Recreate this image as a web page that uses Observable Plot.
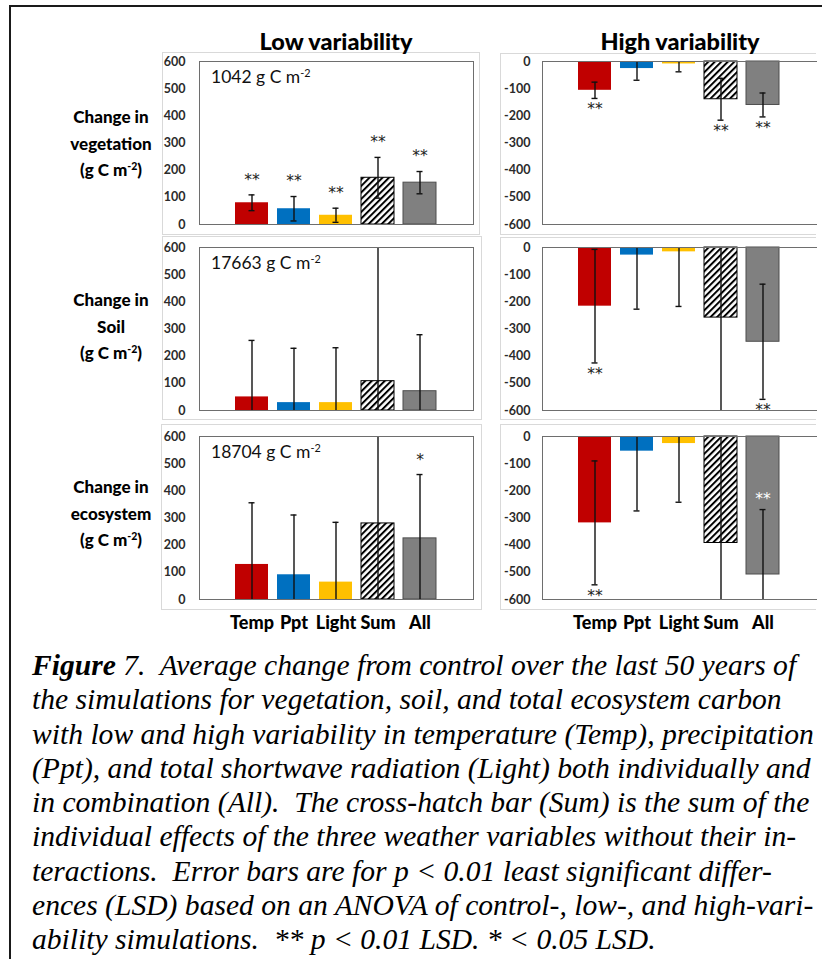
<!DOCTYPE html>
<html><head><meta charset="utf-8">
<script src="https://cdn.jsdelivr.net/npm/d3@7"></script>
<script src="https://cdn.jsdelivr.net/npm/@observablehq/plot@0.6"></script>
<style>
html,body{margin:0;padding:0;background:#fff;}
body{width:822px;height:959px;position:relative;overflow:hidden;font-family:Lato,"Open Sans",sans-serif;}
.outer{position:absolute;left:9px;top:5px;width:900px;height:1000px;border-top:2px solid #1a1a1a;border-left:2px solid #1a1a1a;}
.box{position:absolute;border:1px solid #d9d9d9;}
.box.r{border-right:none;}
.title{position:absolute;font-weight:900;font-size:23.5px;line-height:28px;color:#000;transform:translateX(-50%);white-space:nowrap;top:27px;}
.rowlab{position:absolute;left:111px;transform:translateX(-50%);text-align:center;font-weight:900;font-size:17px;line-height:26.5px;color:#000;white-space:nowrap;}
sup{font-size:0.62em;vertical-align:0.55em;line-height:0;}
.ann{position:absolute;left:211px;font-size:17.5px;line-height:20px;color:#111;white-space:nowrap;}
.panel{position:absolute;overflow:hidden;}
#caption{position:absolute;left:32px;top:648px;font-family:"Liberation Serif","Times New Roman",serif;font-style:italic;font-size:29.6px;line-height:34.25px;white-space:pre;color:#000;}
</style></head><body>
<svg width="0" height="0" style="position:absolute"><defs>
<pattern id="hatch" patternUnits="userSpaceOnUse" width="4.6" height="4.6" patternTransform="rotate(45)">
<rect width="4.6" height="4.6" fill="#fff"/><rect x="0" y="0" width="2" height="4.6" fill="#000"/>
</pattern></defs></svg>
<div class="outer"></div>
<div id="root"></div>
<div class="title" style="left:336px">Low variability</div>
<div class="title" style="left:680px">High variability</div>
<div class="rowlab" style="top:104px">Change in<br>vegetation<br>(g C m<sup>-2</sup>)</div>
<div class="rowlab" style="top:287px">Change in<br>Soil<br>(g C m<sup>-2</sup>)</div>
<div class="rowlab" style="top:474px">Change in<br>ecosystem<br>(g C m<sup>-2</sup>)</div>
<div id="caption"><b>Figure</b> 7.  Average change from control over the last 50 years of
the simulations for vegetation, soil, and total ecosystem carbon
with low and high variability in temperature (Temp), precipitation
(Ppt), and total shortwave radiation (Light) both individually and
in combination (All).  The cross-hatch bar (Sum) is the sum of the
individual effects of the three weather variables without their in-
teractions.  Error bars are for p &lt; 0.01 least significant differ-
ences (LSD) based on an ANOVA of control-, low-, and high-vari-
ability simulations.  ** p &lt; 0.01 LSD. * &lt; 0.05 LSD.</div>
<script>
// ---- data ----
const cats = ["Temp", "Ppt", "Light", "Sum", "All"];
const barColors = ["#C00000", "#0070C0", "#FFC000", "url(#hatch)", "#808080"];
const lowTicks = [0, 100, 200, 300, 400, 500, 600];
const highTicks = [0, -100, -200, -300, -400, -500, -600];
const panelNotes = ["1042", "17663", "18704"];

const vegLow = [80, 58, 34, 172, 154];
const vegLowErr = [29, 45, 26, 75, 41];
const vegLowStars = ["**", "**", "**", "**", "**"];
const vegHigh = [-106, -26, -9, -139, -160];
const vegHighErr = [30, 43, 29, 77, 44];
const vegHighStars = ["**", "", "", "**", "**"];

const soilLow = [50, 29, 29, 108, 71];
const soilLowErr = [208, 200, 202, 610, 208];
const soilLowStars = ["", "", "", "", ""];
const soilHigh = [-216, -28, -16, -258, -347];
const soilHighErr = [209, 199, 201, 610, 212];
const soilHighStars = ["**", "", "", "", "**"];

const ecoLow = [129, 91, 64, 280, 225];
const ecoLowErr = [227, 220, 220, 667, 235];
const ecoLowStars = ["", "", "", "", "*"];
const ecoHigh = [-318, -54, -26, -392, -508];
const ecoHighErr = [228, 220, 216, 664, 239];
const ecoHighStars = ["**", "", "", "", "**"];

// ---- layout ----
const rowFrames = [{ft: 61, fb: 224}, {ft: 246.5, fb: 409.5}, {ft: 436, fb: 599}];
const boxes = [
  [{l:162,t:52,w:316,h:181},{l:500,t:53,w:315,h:180}],
  [{l:162,t:236,w:318,h:182},{l:500,t:237,w:315,h:181}],
  [{l:161,t:424,w:319,h:184},{l:500,t:424,w:315,h:184}]
];
const root = document.getElementById("root");
const starFont = "'DejaVu Sans', sans-serif";

function makePanel(values, errs, stars, low, r) {
  const last = r === 2;
  const domain = low ? [0, 600] : [-600, 0];
  const data = cats.map((c, i) => ({cat: c, value: values[i], lo: values[i] - errs[i], hi: values[i] + errs[i], star: stars[i]}));
  const caps = data.flatMap(d => [d.lo, d.hi].filter(v => v > domain[0] && v < domain[1]).map(v => ({cat: d.cat, v})));
  const starsAbove = low ? data.filter(d => d.star) : [];
  const starsBelow = !low ? data.filter(d => d.star && d.lo >= domain[0]) : [];
  const starsInside = !low ? data.filter(d => d.star && d.lo < domain[0]) : [];
  const {ft, fb} = rowFrames[r];
  const mb = last ? 38 : 6;
  const width = low ? 330 : 327;
  const marks = [
    Plot.barY(data, {x: "cat", y1: 0, y2: "value", fill: "cat"}),
    Plot.barY(data.filter(d => d.cat === "Sum"), {x: "cat", y1: 0, y2: "value", fill: "none", stroke: "#000", strokeWidth: 1}),
    Plot.barY(data.filter(d => d.cat === "All"), {x: "cat", y1: 0, y2: "value", fill: "none", stroke: "#4d4d4d", strokeWidth: 1}),
    Plot.ruleX(data, {x: "cat", y1: "lo", y2: "hi", stroke: "#111", strokeWidth: 1.4}),
    Plot.tickY(caps, {x: "cat", y: "v", stroke: "#111", strokeWidth: 1.4, insetLeft: 13.5, insetRight: 13.5}),
    Plot.text(starsAbove, {x: "cat", y: "hi", text: "star", dy: -15, fontSize: 15.5, fontFamily: starFont, fontWeight: "normal", fill: "#222"}),
    Plot.text(starsBelow, {x: "cat", y: "lo", text: "star", dy: 11, fontSize: 15.5, fontFamily: starFont, fontWeight: "normal", fill: "#222"}),
    Plot.text(starsInside, {x: "cat", y: "hi", text: "star", dy: -11, fontSize: 15.5, fontFamily: starFont, fontWeight: "normal", fill: "#fff"}),
    Plot.frame({stroke: "#6e6e6e", strokeWidth: 1, insetRight: low ? 0 : -6})
  ];
  if (last) marks.push(Plot.text(cats, {x: d => d, frameAnchor: "bottom", dy: 29, fontSize: 18, fontWeight: 900, fill: "#000"}));
  const chart = Plot.plot({
    width, height: (fb - ft) + 10 + mb,
    marginLeft: low ? 49 : 52, marginRight: low ? 7 : 1, marginTop: 10, marginBottom: mb,
    x: {domain: cats, paddingInner: 0.209, paddingOuter: 0.858, axis: null},
    y: {domain, ticks: low ? lowTicks : highTicks, tickSize: 0, tickPadding: low ? 14 : 12, label: null, clamp: true, tickFormat: d => String(d)},
    color: {domain: cats, range: barColors},
    style: {fontFamily: "Lato, 'Open Sans', sans-serif", fontSize: "12.5px", fontWeight: "bold", color: "#2b2b2b", background: "transparent"},
    marks
  });
  const b = boxes[r][low ? 0 : 1];
  const box = document.createElement("div");
  box.className = "box" + (low ? "" : " r");
  Object.assign(box.style, {left: b.l + "px", top: b.t + "px", width: b.w + "px", height: b.h + "px"});
  root.appendChild(box);
  const wrap = document.createElement("div");
  wrap.className = "panel";
  Object.assign(wrap.style, {left: (low ? 150 : 490) + "px", top: (ft - 10) + "px", width: width + "px", height: ((fb - ft) + 10 + mb) + "px"});
  wrap.appendChild(chart);
  root.appendChild(wrap);
  if (low) {
    const a = document.createElement("div");
    a.className = "ann";
    a.style.top = (ft + 6) + "px";
    a.innerHTML = panelNotes[r] + " g C m<sup>-2</sup>";
    root.appendChild(a);
  }
}

makePanel(vegLow, vegLowErr, vegLowStars, true, 0);
makePanel(vegHigh, vegHighErr, vegHighStars, false, 0);
makePanel(soilLow, soilLowErr, soilLowStars, true, 1);
makePanel(soilHigh, soilHighErr, soilHighStars, false, 1);
makePanel(ecoLow, ecoLowErr, ecoLowStars, true, 2);
makePanel(ecoHigh, ecoHighErr, ecoHighStars, false, 2);
</script>
</body></html>
